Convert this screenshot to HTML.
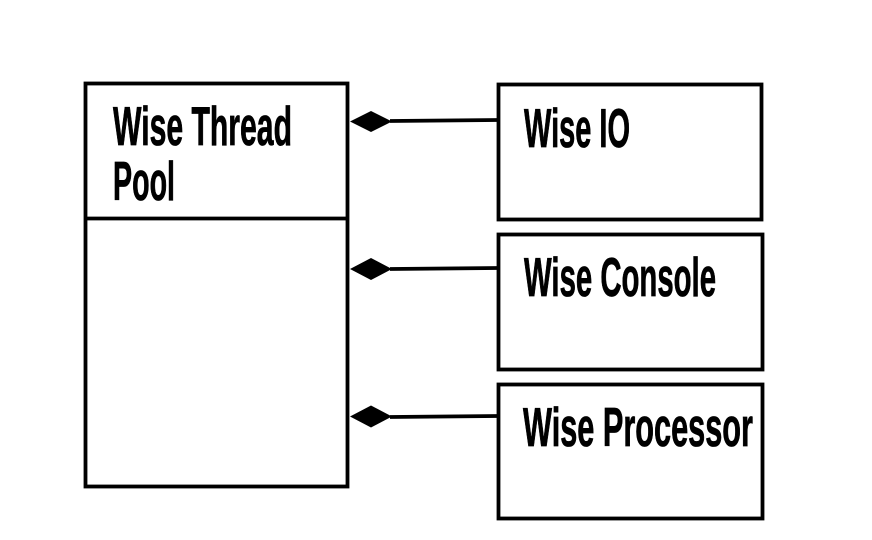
<!DOCTYPE html>
<html><head><meta charset="utf-8"><style>
html,body{margin:0;padding:0;background:#fff;}
svg{display:block;}
text{font-family:"Liberation Sans Narrow","Liberation Sans",sans-serif;font-weight:bold;font-size:55px;fill:#000;stroke:#000;stroke-width:0.8px;}
</style></head><body>
<svg width="872" height="540" viewBox="0 0 872 540" xmlns="http://www.w3.org/2000/svg">
<g fill="none" stroke="#000" stroke-width="3.8">
<rect x="85.5" y="83.5" width="262" height="403"/>
<line x1="85" y1="218.5" x2="348" y2="218.5"/>
<rect x="498.5" y="84.5" width="263" height="135"/>
<rect x="498.5" y="234.5" width="264" height="135"/>
<rect x="498.5" y="384.5" width="264" height="134"/>
<line x1="390" y1="121" x2="498" y2="120"/>
<line x1="390" y1="269" x2="498" y2="268"/>
<line x1="390" y1="417" x2="498" y2="416"/>
</g>
<g fill="#000">
<polygon points="350,121.5 371,111 392,121.5 371,132"/>
<polygon points="350,269 371,258 392,269 371,280"/>
<polygon points="350,416.5 371,405.5 392,416.5 371,427.5"/>
</g>
<text x="113" y="145" textLength="179" lengthAdjust="spacingAndGlyphs">Wise Thread</text>
<text x="113" y="200" textLength="62" lengthAdjust="spacingAndGlyphs">Pool</text>
<text x="524" y="147" textLength="106" lengthAdjust="spacingAndGlyphs">Wise IO</text>
<text x="524" y="296" textLength="192" lengthAdjust="spacingAndGlyphs">Wise Console</text>
<text x="523" y="446" textLength="230" lengthAdjust="spacingAndGlyphs">Wise Processor</text>
</svg>
</body></html>
